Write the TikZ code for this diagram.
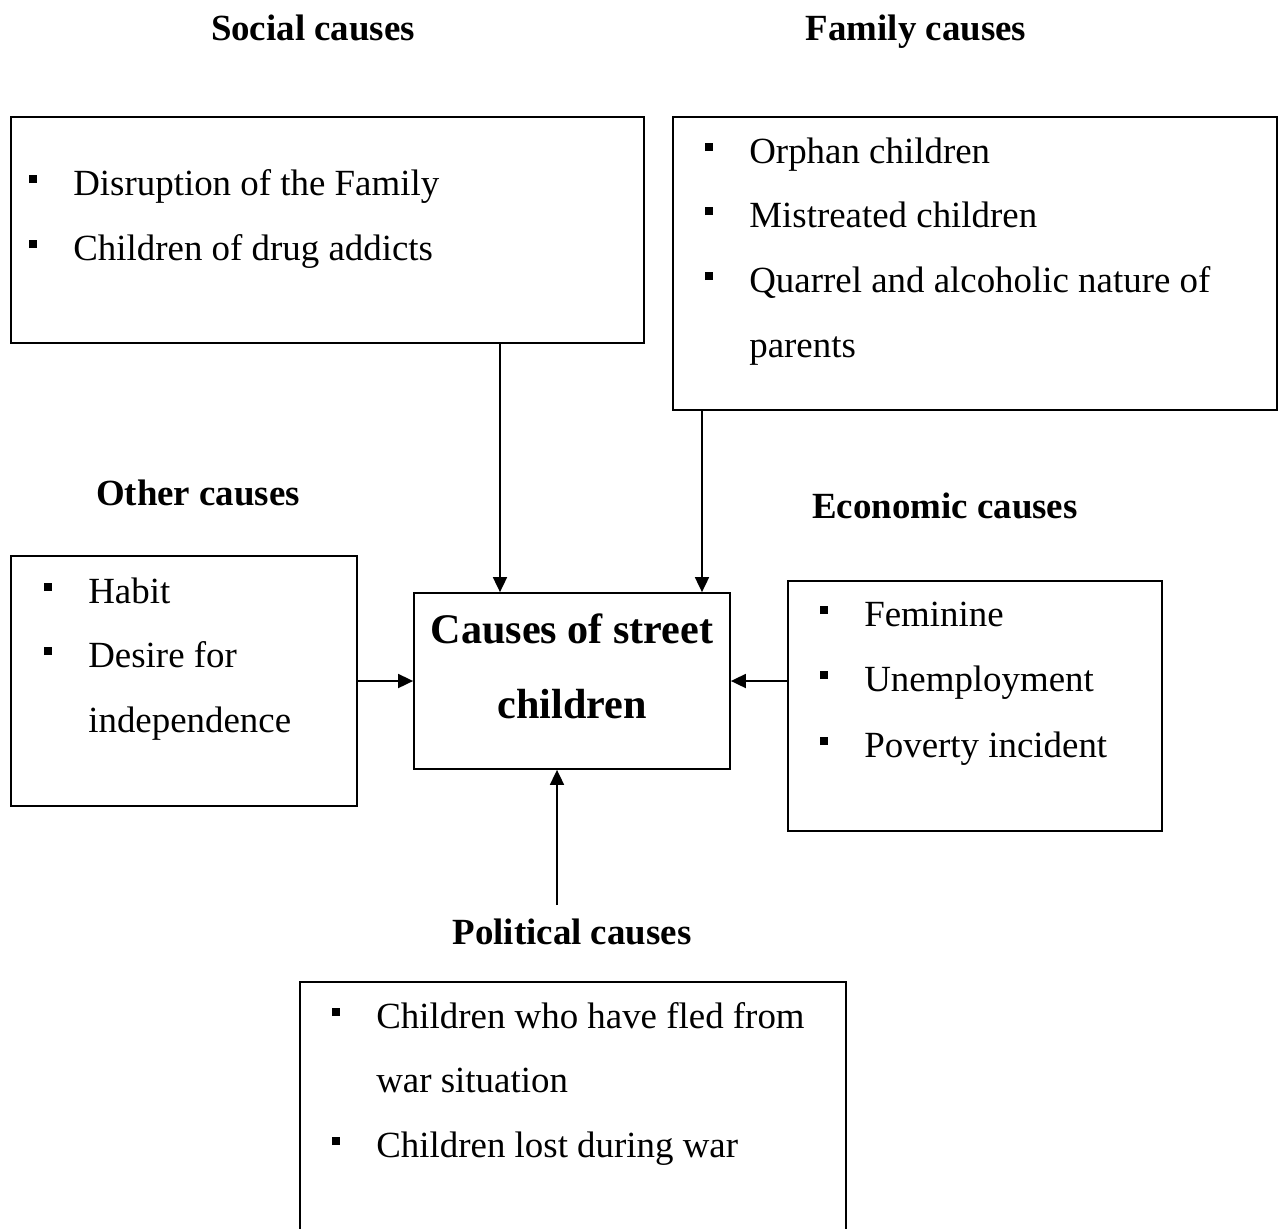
\documentclass[tikz,border=0pt]{standalone}
\usepackage{fontspec}
\setmainfont{Liberation Serif}
\usetikzlibrary{arrows.meta}

\newcommand{\itm}[1]{\makebox[0.88cm][l]{\rule[0.24cm]{0.16cm}{0.16cm}}#1}
\newcommand{\cnt}[1]{\hspace*{0.88cm}#1}

\begin{document}
\begin{tikzpicture}[x=0.02cm, y=-0.02cm,
    box/.style 2 args={draw, line width=1pt, inner sep=0pt, minimum width=#1*0.02cm, minimum height=#2*0.02cm},
    txt/.style={anchor=base west, inner sep=0pt, font=\fontsize{21}{25}\selectfont},
    ttl/.style={anchor=base, inner sep=0pt, font=\fontsize{21}{25}\selectfont\bfseries},
    arr/.style={-{Triangle[length=0.3cm, width=0.28cm]}, line width=1pt}]
    \useasboundingbox (0,0) rectangle (1278,1228);

        % titles
        \node[ttl] (socialt)   at (313,40)  {Social causes};
        \node[ttl] (familyt)   at (916,40)  {Family causes};
        \node[ttl] (othert)    at (198,505) {Other causes};
        \node[ttl] (economict) at (945,518) {Economic causes};
        \node[ttl] (politicalt) at (572,944) {Political causes};

        % boxes
        \node[box={633}{226}] (social)    at (327.5,230)  {};
        \node[box={604}{293}] (family)    at (975,263.5)  {};
        \node[box={346}{250}] (other)     at (184,681)    {};
        \node[box={316}{176}] (main)      at (572,681)    {};
        \node[box={374}{250}] (economic)  at (975,706)    {};
        \node[box={546}{290}] (political) at (573,1127)   {};

        % centre text
        \node[anchor=base, inner sep=0pt, font=\fontsize{24}{28}\selectfont\bfseries] (m1) at (572,643) {Causes of street};
        \node[anchor=base, inner sep=0pt, font=\fontsize{24}{28}\selectfont\bfseries] (m2) at (572,718) {children};

        % items
        \node[txt] (s1) at (29,195) {\itm{Disruption of the Family}};
        \node[txt] (s2) at (29,260) {\itm{Children of drug addicts}};

        \node[txt] (f1) at (705,163) {\itm{Orphan children}};
        \node[txt] (f2) at (705,227) {\itm{Mistreated children}};
        \node[txt] (f3) at (705,292) {\itm{Quarrel and alcoholic nature of}};
        \node[txt] (f4) at (705,357) {\cnt{parents}};

        \node[txt] (o1) at (44,603) {\itm{Habit}};
        \node[txt] (o2) at (44,667) {\itm{Desire for}};
        \node[txt] (o3) at (44,732) {\cnt{independence}};

        \node[txt] (e1) at (820,626) {\itm{Feminine}};
        \node[txt] (e2) at (820,691) {\itm{Unemployment}};
        \node[txt] (e3) at (820,757) {\itm{Poverty incident}};

        \node[txt] (p1) at (332,1028) {\itm{Children who have fled from}};
        \node[txt] (p2) at (332,1092) {\cnt{war situation}};
        \node[txt] (p3) at (332,1157) {\itm{Children lost during war}};

        % connectors
        \coordinate (xs) at (500,0);
        \coordinate (xf) at (702,0);
        \coordinate (xp) at (557,0);
        \coordinate (pfree) at (557,905);

        \draw[arr] (social.south -| xs) -- (main.north -| xs);
        \draw[arr] (family.south -| xf) -- (main.north -| xf);
        \draw[arr] (other.east) -- (main.west);
        \draw[arr] (economic.west |- main.east) -- (main.east);
        \draw[arr] (pfree) -- (main.south -| xp);

    \end{tikzpicture}
\end{document}
